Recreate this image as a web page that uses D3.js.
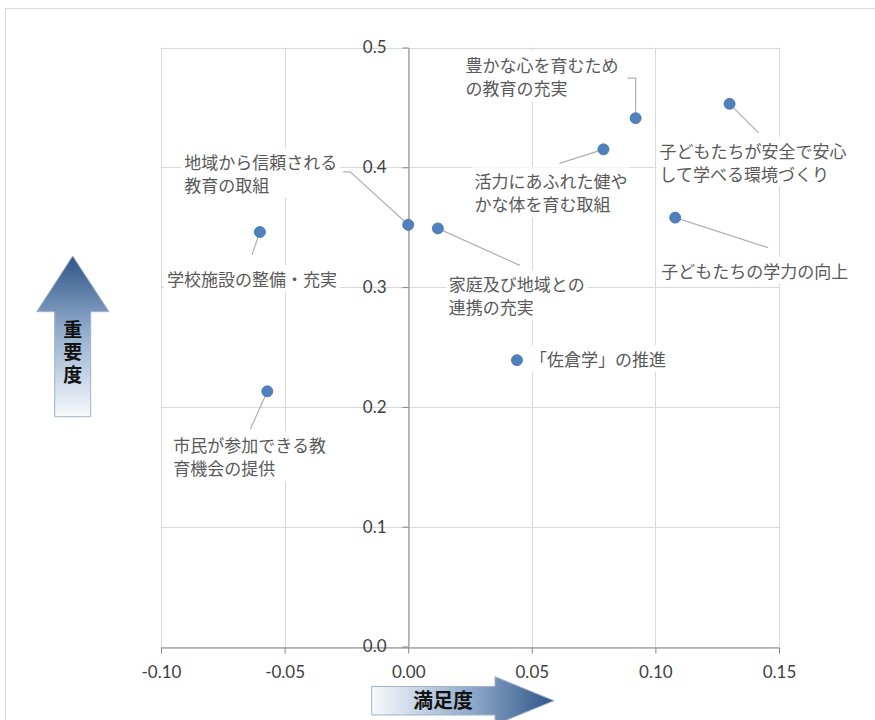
<!DOCTYPE html>
<html>
<head>
<meta charset="utf-8">
<script src="https://cdn.jsdelivr.net/npm/d3@7"></script>
<style>
  body { margin: 0; background: #fff; }
  svg { display: block; }
</style>
</head>
<body>
<div class="chart"></div>
<script>
// satisfaction (x) vs importance (y)
var names = [
  "地域から信頼される\n教育の取組",
  "家庭及び地域との\n連携の充実",
  "学校施設の整備・充実",
  "市民が参加できる教\n育機会の提供",
  "「佐倉学」の推進",
  "活力にあふれた健や\nかな体を育む取組",
  "豊かな心を育むため\nの教育の充実",
  "子どもたちが安全で安心\nして学べる環境づくり",
  "子どもたちの学力の向上"
];
var satisfaction = [0.000, 0.012, -0.060, -0.057, 0.044, 0.079, 0.092, 0.130, 0.108];
var importance   = [0.352, 0.349, 0.346, 0.213, 0.239, 0.415, 0.441, 0.453, 0.358];

var xTicks = [-0.10, -0.05, 0.00, 0.05, 0.10, 0.15];
var yTicks = [0.0, 0.1, 0.2, 0.3, 0.4, 0.5];

// label placement, pixels relative to the point (text start, leader line)
var labelPos = [
  {dx: -224, dy: -62, leader: [[-58, -53], [-65, -53]]},
  {dx: 11, dy: 57, leader: [[82, 37]]},
  {dx: -93, dy: 48, leader: [[-8, 23]]},
  {dx: -94, dy: 55, leader: [[-17, 38]]},
  {dx: 13, dy: 0, leader: []},
  {dx: -129, dy: 33, leader: [[-44, 14]]},
  {dx: -170, dy: -52, leader: [[0, -40], [-8, -40]]},
  {dx: -70, dy: 48, leader: [[29, 29]]},
  {dx: -14, dy: 54, leader: [[93, 30]]}
];

var width = 875, height = 720;
var plotL = 161, plotR = 779, plotT = 47.5, plotB = 646.5;
var jpFont = "'Noto Sans CJK JP', sans-serif";
var numFont = "Lato, 'Open Sans', sans-serif";

var svg = d3.select(".chart").append("svg")
    .attr("width", width)
    .attr("height", height);

var defs = svg.append("defs");
var gUp = defs.append("linearGradient").attr("id", "gUp")
    .attr("x1", 0).attr("y1", 0).attr("x2", 0).attr("y2", 1);
gUp.append("stop").attr("offset", "0%").attr("stop-color", "#2f5586");
gUp.append("stop").attr("offset", "45%").attr("stop-color", "#8fa9cb");
gUp.append("stop").attr("offset", "100%").attr("stop-color", "#f7f9fc");
var gRight = defs.append("linearGradient").attr("id", "gRight")
    .attr("x1", 0).attr("y1", 0).attr("x2", 1).attr("y2", 0);
gRight.append("stop").attr("offset", "0%").attr("stop-color", "#f7f9fc");
gRight.append("stop").attr("offset", "55%").attr("stop-color", "#8fa9cb");
gRight.append("stop").attr("offset", "100%").attr("stop-color", "#2f5586");

// outer frame
svg.append("rect")
    .attr("x", 5.5).attr("y", 8.5)
    .attr("width", 900).attr("height", 800)
    .attr("fill", "none")
    .attr("stroke", "#d9d9d9");

var x = d3.scaleLinear().domain([-0.10, 0.15]).range([plotL, plotR]);
var y = d3.scaleLinear().domain([0, 0.5]).range([plotB, plotT]);

// grid
svg.append("g").selectAll("line").data(xTicks).enter().append("line")
    .attr("x1", function(d) { return Math.round(x(d)) + 0.5; })
    .attr("x2", function(d) { return Math.round(x(d)) + 0.5; })
    .attr("y1", plotT).attr("y2", plotB)
    .attr("stroke", "#d9d9d9");
svg.append("g").selectAll("line").data(yTicks).enter().append("line")
    .attr("x1", plotL).attr("x2", plotR)
    .attr("y1", function(d) { return Math.round(y(d)) + 0.5; })
    .attr("y2", function(d) { return Math.round(y(d)) + 0.5; })
    .attr("stroke", "#d9d9d9");

// axes through zero
var xAxis = svg.append("g")
    .attr("transform", "translate(0," + (Math.round(y(0)) + 0.5) + ")")
    .call(d3.axisBottom(x).tickValues(xTicks).tickFormat(d3.format(".2f"))
      .tickSizeInner(6).tickSizeOuter(0).tickPadding(12));
var yAxis = svg.append("g")
    .attr("transform", "translate(" + (Math.round(x(0)) + 0.5) + ",0)")
    .call(d3.axisLeft(y).tickValues(yTicks).tickFormat(d3.format(".1f"))
      .tickSizeInner(6).tickSizeOuter(0).tickPadding(16));
[xAxis, yAxis].forEach(function(a) {
  a.select(".domain").attr("stroke", "#868686");
  a.selectAll(".tick line").attr("stroke", "#868686");
  a.selectAll("text")
      .attr("fill", "#404040")
      .style("font-family", numFont)
      .style("font-size", "17px");
});
xAxis.selectAll(".tick text").text(function(d) { return d3.format(".2f")(d).replace("−", "-"); });

// leader lines
var pts = names.map(function(n, i) {
  return {name: n, px: x(satisfaction[i]), py: y(importance[i]), lp: labelPos[i]};
});
svg.append("g").selectAll("polyline").data(pts).enter().append("polyline")
    .attr("points", function(d) {
      var p = [[d.px, d.py]].concat(d.lp.leader.map(function(o) { return [d.px + o[0], d.py + o[1]]; }));
      return p.map(function(q) { return q.join(","); }).join(" ");
    })
    .attr("fill", "none")
    .attr("stroke", "#b0b0b0")
    .attr("stroke-width", 1.2);

// labels with white boxes
var lab = svg.append("g").selectAll("g").data(pts).enter().append("g")
    .attr("transform", function(d) { return "translate(" + (d.px + d.lp.dx) + "," + (d.py + d.lp.dy) + ")"; });
lab.each(function(d) {
  var g = d3.select(this);
  var lines = d.name.split("\n");
  var bg = g.append("rect").attr("fill", "#fff");
  var t = g.append("text")
      .attr("fill", "#595959")
      .style("font-family", jpFont)
      .style("font-size", "17px");
  lines.forEach(function(s, k) {
    t.append("tspan").attr("x", 0).attr("y", k * 23).attr("dy", "0.35em").text(s);
  });
  var b = t.node().getBBox();
  bg.attr("x", b.x - 3).attr("y", b.y - 1).attr("width", b.width + 6).attr("height", b.height + 2);
});

// points
svg.append("g").selectAll("circle").data(pts).enter().append("circle")
    .attr("cx", function(d) { return d.px; })
    .attr("cy", function(d) { return d.py; })
    .attr("r", 5.5)
    .attr("fill", "#4f81bd")
    .attr("stroke", "#3f6fa8")
    .attr("stroke-width", 0.8);

// axis title arrows
svg.append("path")
    .attr("d", "M72.7,256 L109,311.7 L90.7,311.7 L90.7,416.7 L54.7,416.7 L54.7,311.7 L36.7,311.7 Z")
    .attr("fill", "url(#gUp)")
    .attr("stroke", "#9fb3cc")
    .attr("stroke-width", 1);
svg.append("text")
    .attr("x", 72.7).attr("y", 330)
    .attr("text-anchor", "middle")
    .style("font-family", jpFont)
    .style("font-size", "19px")
    .style("font-weight", "bold")
    .attr("fill", "#111")
    .selectAll("tspan").data(["重", "要", "度"]).enter().append("tspan")
      .attr("x", 72.7)
      .attr("y", function(d, i) { return 330 + i * 22.5; })
      .attr("dy", "0.35em")
      .text(function(d) { return d; });

svg.append("path")
    .attr("d", "M371.7,686.5 L495,686.5 L495,676.7 L554,700.7 L495,724.7 L495,715 L371.7,715 Z")
    .attr("fill", "url(#gRight)")
    .attr("stroke", "#9fb3cc")
    .attr("stroke-width", 1);
svg.append("text")
    .attr("x", 443).attr("y", 701)
    .attr("dy", "0.35em")
    .attr("text-anchor", "middle")
    .style("font-family", jpFont)
    .style("font-size", "20px")
    .style("font-weight", "bold")
    .attr("fill", "#111")
    .text("満足度");
</script>
</body>
</html>
